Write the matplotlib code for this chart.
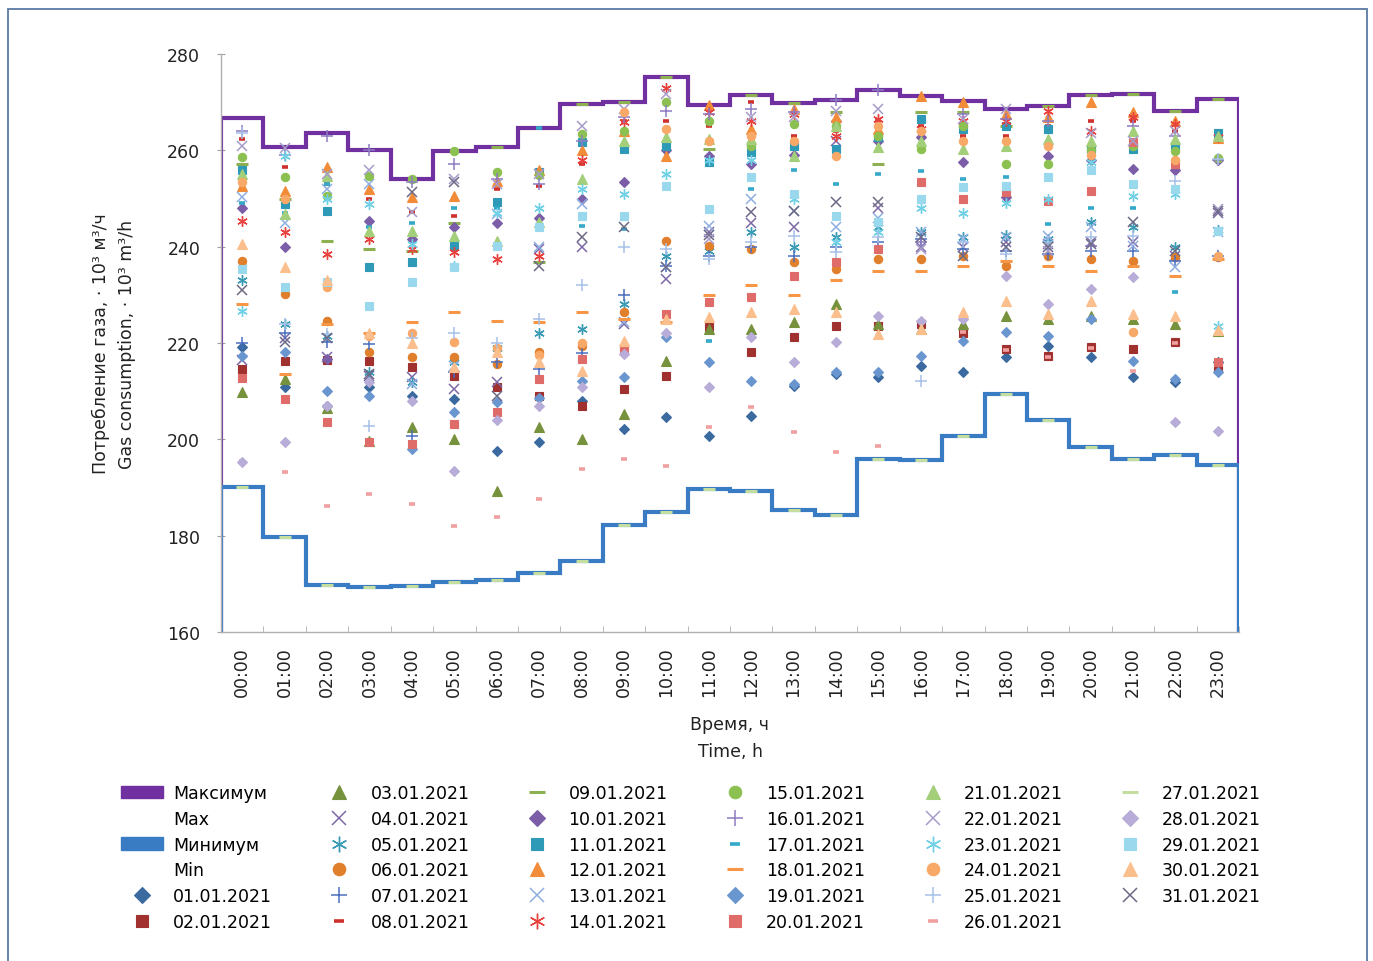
import numpy as np
import matplotlib.pyplot as plt
from matplotlib.lines import Line2D
from matplotlib.patches import Patch, Rectangle

plt.rcParams['font.family'] = ['DejaVu Sans']

# часы суток
hours = ['%02d:00' % h for h in range(24)]

# огибающие: максимум и минимум по часам, тыс. м3/ч
max_vals = [266.7, 260.7, 263.6, 260.1, 254.0, 259.9, 260.7, 264.6, 269.6, 270.0, 275.2, 269.4,
            271.5, 269.8, 270.4, 272.5, 271.3, 270.2, 268.6, 269.2, 271.5, 271.7, 268.2, 270.7]
min_vals = [190.1, 179.7, 169.8, 169.3, 169.5, 170.4, 170.8, 172.2, 174.7, 182.2, 184.9, 189.7,
            189.3, 185.3, 184.3, 195.9, 195.7, 200.7, 209.4, 204.0, 198.4, 195.9, 196.7, 194.7]

# суточные графики потребления за январь 2021
d01 = [219.1, 210.9, 206.9, 210.9, 209.0, 208.4, 197.6, 199.4, 208.0, 202.1, 204.6, 200.7,
       204.8, 211.1, 213.6, 212.9, 215.2, 214.0, 217.0, 219.4, 217.1, 213.0, 212.0, 216.0]
d02 = [214.6, 216.3, 216.5, 216.3, 215.0, 213.1, 210.9, 209.0, 206.9, 210.4, 213.1, 223.3,
       218.1, 221.2, 223.5, 223.5, 224.0, 222.0, 218.8, 217.3, 219.2, 218.8, 220.2, 215.0]
d03 = [209.8, 212.5, 206.5, 199.6, 202.6, 200.1, 189.3, 202.6, 200.1, 205.3, 216.3, 223.0,
       222.9, 224.4, 228.1, 224.0, 223.0, 223.9, 225.6, 225.0, 225.6, 225.0, 224.0, 222.5]
d04 = [216.5, 221.0, 217.0, 213.1, 212.9, 210.4, 212.0, 239.5, 240.0, 224.0, 233.3, 243.0,
       245.0, 244.0, 262.0, 248.0, 240.0, 240.0, 241.0, 240.5, 241.0, 241.0, 238.0, 247.0]
d05 = [233.0, 224.0, 221.5, 214.0, 212.0, 216.0, 219.0, 222.0, 223.0, 228.0, 238.0, 239.0,
       243.0, 240.0, 242.0, 244.0, 243.0, 242.0, 242.5, 241.5, 245.1, 244.0, 240.0, 243.5]
d06 = [237.0, 230.2, 224.6, 218.1, 217.1, 217.1, 215.6, 218.1, 219.4, 226.4, 241.2, 240.1,
       239.5, 236.8, 235.4, 237.4, 237.4, 238.1, 236.0, 238.1, 237.4, 237.0, 237.9, 237.9]
d07 = [220.0, 222.0, 220.2, 219.8, 200.7, 214.0, 216.0, 214.6, 218.0, 230.0, 236.0, 238.0,
       240.0, 238.0, 240.0, 241.0, 241.5, 239.5, 239.0, 238.5, 239.0, 239.0, 237.0, 238.0]
d08 = [262.3, 256.5, 253.0, 250.0, 247.2, 246.4, 252.0, 252.6, 257.2, 266.0, 266.0, 265.0,
       270.0, 263.0, 264.0, 266.0, 265.0, 263.0, 263.0, 265.0, 266.0, 266.0, 264.0, 262.0]
d09 = [257.2, 250.0, 241.2, 239.5, 239.0, 245.0, 260.7, 236.8, 269.6, 270.0, 275.2, 260.3,
       271.5, 269.8, 268.0, 257.2, 268.0, 268.0, 265.0, 269.2, 271.5, 271.7, 268.2, 270.7]
d10 = [248.0, 240.0, 216.7, 245.3, 241.6, 244.0, 245.0, 246.0, 250.0, 253.4, 260.0, 258.8,
       257.2, 259.0, 266.0, 262.0, 262.8, 257.6, 250.3, 258.8, 258.0, 256.1, 256.0, 258.0]
d11 = [256.0, 248.9, 247.4, 235.8, 236.8, 240.1, 249.3, 255.5, 261.7, 260.3, 260.9, 257.6,
       259.6, 260.9, 260.3, 262.8, 266.5, 264.5, 265.0, 264.4, 260.3, 260.3, 261.0, 263.5]
d12 = [252.5, 251.6, 256.5, 252.0, 250.3, 250.5, 253.6, 256.0, 260.0, 264.0, 258.8, 269.4,
       264.4, 268.6, 267.0, 264.4, 271.3, 270.0, 267.5, 267.0, 270.0, 268.0, 266.0, 262.5]
d13 = [250.3, 245.0, 252.0, 253.0, 211.5, 215.2, 246.8, 240.0, 248.9, 224.4, 235.8, 244.3,
       250.0, 247.5, 244.1, 246.0, 243.0, 241.6, 242.0, 242.2, 244.0, 240.1, 235.8, 243.0]
d14 = [245.3, 243.0, 238.5, 241.6, 239.5, 238.9, 237.4, 238.1, 258.0, 265.9, 273.0, 268.0,
       266.1, 267.5, 263.0, 266.5, 264.4, 266.0, 266.0, 268.2, 264.0, 267.0, 265.5, 262.8]
d15 = [258.6, 254.5, 250.5, 254.7, 254.0, 259.9, 255.5, 254.8, 263.4, 264.0, 270.0, 266.0,
       260.9, 265.5, 265.0, 263.0, 260.3, 265.0, 257.2, 257.2, 260.0, 261.0, 259.9, 258.5]
d16 = [264.1, 259.0, 263.0, 260.1, 253.4, 257.2, 254.0, 253.0, 262.0, 267.0, 268.2, 267.5,
       268.6, 268.0, 270.4, 272.5, 241.0, 267.5, 266.5, 266.0, 240.1, 265.0, 263.0, 258.0]
d17 = [249.0, 247.0, 253.0, 244.0, 245.0, 248.0, 248.0, 264.6, 244.3, 243.7, 262.0, 220.4,
       252.0, 256.0, 253.0, 255.0, 255.7, 254.0, 254.5, 244.7, 248.0, 248.0, 230.6, 263.0]
d18 = [228.0, 213.6, 224.0, 222.0, 224.4, 226.4, 224.6, 224.4, 226.4, 225.0, 224.4, 230.0,
       232.0, 230.0, 233.0, 235.0, 235.0, 236.0, 237.0, 236.0, 235.0, 236.0, 234.0, 237.5]
d19 = [217.3, 218.1, 210.0, 209.0, 198.0, 205.7, 207.7, 208.5, 212.1, 212.9, 221.2, 216.0,
       212.1, 211.5, 214.0, 214.0, 217.3, 220.4, 222.3, 221.5, 225.0, 216.3, 212.5, 214.0]
d20 = [212.8, 208.4, 203.6, 199.4, 199.0, 203.2, 205.7, 212.5, 216.7, 219.0, 226.0, 228.5,
       229.5, 233.9, 236.8, 239.5, 253.4, 250.0, 251.3, 249.5, 251.6, 261.7, 257.2, 216.0]
d21 = [255.1, 246.8, 254.7, 243.2, 243.2, 242.2, 241.2, 245.1, 254.0, 262.0, 262.8, 262.3,
       262.3, 258.8, 265.0, 260.7, 262.0, 260.3, 260.9, 262.3, 262.0, 264.0, 262.3, 263.0]
d22 = [261.0, 260.5, 255.0, 256.0, 247.2, 254.0, 253.0, 255.1, 265.0, 268.5, 271.7, 241.6,
       267.0, 266.9, 268.2, 268.6, 239.5, 266.5, 268.6, 239.0, 263.5, 262.0, 264.0, 247.8]
d23 = [226.6, 258.8, 250.0, 248.9, 240.5, 236.0, 247.0, 248.0, 252.0, 250.9, 255.0, 258.0,
       258.0, 250.0, 241.0, 243.0, 248.0, 247.0, 249.0, 250.0, 257.6, 250.5, 250.9, 223.5]
d24 = [253.5, 250.0, 231.6, 221.5, 222.0, 220.2, 219.0, 217.5, 220.0, 268.0, 264.4, 262.0,
       263.0, 262.0, 258.8, 265.0, 264.0, 262.0, 262.0, 261.0, 259.0, 222.3, 258.0, 238.0]
d25 = [263.5, 223.9, 221.9, 202.8, 221.0, 222.0, 220.0, 225.0, 232.0, 240.0, 239.5, 237.4,
       241.0, 242.2, 238.9, 242.0, 212.1, 241.0, 238.5, 241.0, 242.0, 242.2, 253.6, 258.2]
d26 = [195.5, 193.2, 186.2, 188.6, 186.6, 182.0, 183.9, 187.6, 193.8, 195.9, 194.5, 202.6,
       206.7, 201.5, 197.4, 198.6, 224.5, 222.2, 218.5, 217.0, 219.0, 214.2, 220.0, 201.7]
d27 = [190.1, 179.7, 169.8, 169.3, 169.5, 170.4, 170.8, 172.2, 174.7, 182.2, 184.9, 189.7,
       189.3, 185.3, 184.3, 195.9, 195.7, 200.7, 209.4, 204.0, 198.4, 195.9, 196.7, 194.7]
d28 = [195.3, 199.4, 207.0, 212.0, 208.0, 193.4, 204.0, 207.0, 210.9, 217.7, 222.0, 210.9,
       221.2, 216.0, 220.2, 225.6, 224.6, 225.0, 233.9, 228.0, 231.2, 233.7, 203.6, 201.7]
d29 = [235.4, 231.6, 232.7, 227.7, 232.7, 235.8, 240.1, 244.1, 246.4, 246.4, 252.6, 247.8,
       254.5, 250.9, 246.4, 245.1, 249.9, 252.4, 252.6, 254.5, 256.0, 253.0, 252.0, 243.2]
d30 = [240.5, 235.8, 233.0, 222.0, 220.0, 215.0, 218.1, 216.0, 214.2, 220.4, 225.0, 225.4,
       226.4, 227.0, 226.4, 221.9, 223.0, 226.4, 228.7, 226.0, 228.7, 226.0, 225.6, 222.8]
d31 = [231.0, 220.2, 221.0, 213.5, 251.3, 253.4, 209.0, 236.0, 242.0, 244.0, 235.8, 242.5,
       247.2, 247.4, 249.3, 249.3, 242.0, 238.0, 240.0, 240.0, 240.5, 245.1, 239.1, 247.4]

days = [d01, d02, d03, d04, d05, d06, d07, d08, d09, d10, d11, d12, d13, d14, d15, d16,
        d17, d18, d19, d20, d21, d22, d23, d24, d25, d26, d27, d28, d29, d30, d31]
day_labels = ['%02d.01.2021' % (i + 1) for i in range(31)]

# маркер, цвет, размер, толщина линии маркера
star = (6, 2, 0)
styles = [
    ('D', '#3b6aa0', 5.5, 0.8), ('s', '#a0312e', 6, 0.8), ('^', '#76923c', 6.5, 0.8),
    ('x', '#7d68a8', 6.5, 1.1), (star, '#3a9bb5', 7.5, 1.0), ('o', '#e07f2c', 6, 0.8),
    ('+', '#4a6fc0', 8, 1.1), ('_', '#d0312e', 4.5, 2.6), ('_', '#8db050', 8, 2.2),
    ('D', '#7b5ea7', 5.5, 0.8), ('s', '#2e9ab8', 6, 0.8), ('^', '#f28c38', 6.5, 0.8),
    ('x', '#8eaee0', 6.5, 1.1), (star, '#e8403c', 7.5, 1.0), ('o', '#8cc152', 6, 0.8),
    ('+', '#8e7cc3', 8, 1.1), ('_', '#34a9c9', 4.5, 2.6), ('_', '#f79646', 8, 2.2),
    ('D', '#6a96d0', 5.5, 0.8), ('s', '#e06c6a', 6, 0.8), ('^', '#a3cf7a', 6.5, 0.8),
    ('x', '#a79cc9', 6.5, 1.1), (star, '#6fd0e6', 7.5, 1.0), ('o', '#f8a968', 6, 0.8),
    ('+', '#a6c0e8', 8, 1.1), ('_', '#f0a0a0', 4.5, 2.6), ('_', '#c4dea0', 8, 2.2),
    ('D', '#b8acd8', 5.5, 0.8), ('s', '#9ad8ee', 6, 0.8), ('^', '#fbbf8e', 6.5, 0.8),
    ('x', '#6d6a86', 6.5, 1.1),
]

fig = plt.figure(figsize=(13.73, 9.62), dpi=100)
ax = fig.add_axes([221 / 1373, 1 - 633 / 962, 1018 / 1373, 578 / 962])

x = np.arange(24)
edges = np.arange(25) - 0.5


def step_outline(vals, base=160):
    # ступенчатая огибающая с опусканием до базовой линии по краям
    xs = np.r_[edges[0], np.repeat(edges, 2)[1:-1], edges[-1]]
    ys = np.r_[base, np.repeat(vals, 2), base]
    return xs, ys


mx, my = step_outline(max_vals)
ax.plot(mx, my, color='#7030a0', lw=3.0, zorder=2, solid_joinstyle='miter')
nx, ny = step_outline(min_vals)
ax.plot(nx, ny, color='#3a7cc4', lw=3.0, zorder=2.1, solid_joinstyle='miter')

day_handles = []
for vals, lab, (mk, col, ms, mew) in zip(days, day_labels, styles):
    h, = ax.plot(x, vals, linestyle='none', marker=mk, ms=ms, mfc=col, mec=col,
                 mew=mew, label=lab, zorder=3)
    day_handles.append(h)

ax.set_xlim(-0.5, 23.5)
ax.set_ylim(160, 280)
ax.set_yticks(np.arange(160, 281, 20))
ax.set_xticks(x)
ax.set_xticklabels(hours, rotation=90)
ax.set_xticks(edges, minor=True)
ax.tick_params(axis='x', which='major', length=0, pad=10, labelsize=12.5, colors='#222222')
ax.tick_params(axis='x', which='minor', length=4, color='#b0b0b0', direction='in')
ax.tick_params(axis='y', length=6, direction='inout', color='#a0a0a0', labelsize=12.5,
               labelcolor='#222222', pad=12)
for side in ['top', 'right']:
    ax.spines[side].set_visible(False)
for side in ['left', 'bottom']:
    ax.spines[side].set_color('#b0b0b0')
    ax.spines[side].set_linewidth(1.0)

ax.set_xlabel('Время, ч\nTime, h', fontsize=12.5, labelpad=14, color='#222222',
              linespacing=1.6)
ax.set_ylabel('Потребление газа, · 10³ м³/ч\nGas consumption, · 10³ m³/h', fontsize=12.5,
              labelpad=22, color='#222222', linespacing=1.6)

blank = Line2D([], [], linestyle='none')
handles = [Patch(color='#7030a0'), blank, Patch(color='#3a7cc4'), blank] + day_handles
labels = ['Максимум', 'Max', 'Минимум', 'Min'] + day_labels
fig.legend(handles, labels, loc='upper left', bbox_to_anchor=(121 / 1373, 1 - 785 / 962),
           ncol=6, frameon=False, fontsize=12.5, numpoints=1, markerscale=1.5,
           handlelength=2.4, handletextpad=0.6, columnspacing=2.68, labelspacing=0.45,
           borderpad=0, borderaxespad=0)

# рамка рисунка
fig.add_artist(Rectangle((8 / 1373, -0.02), 1359 / 1373, 0.02 + 1 - 10 / 962,
                         transform=fig.transFigure, fill=False, ec='#5b7ba3', lw=1.3))

fig.savefig('out.png', dpi=100)
